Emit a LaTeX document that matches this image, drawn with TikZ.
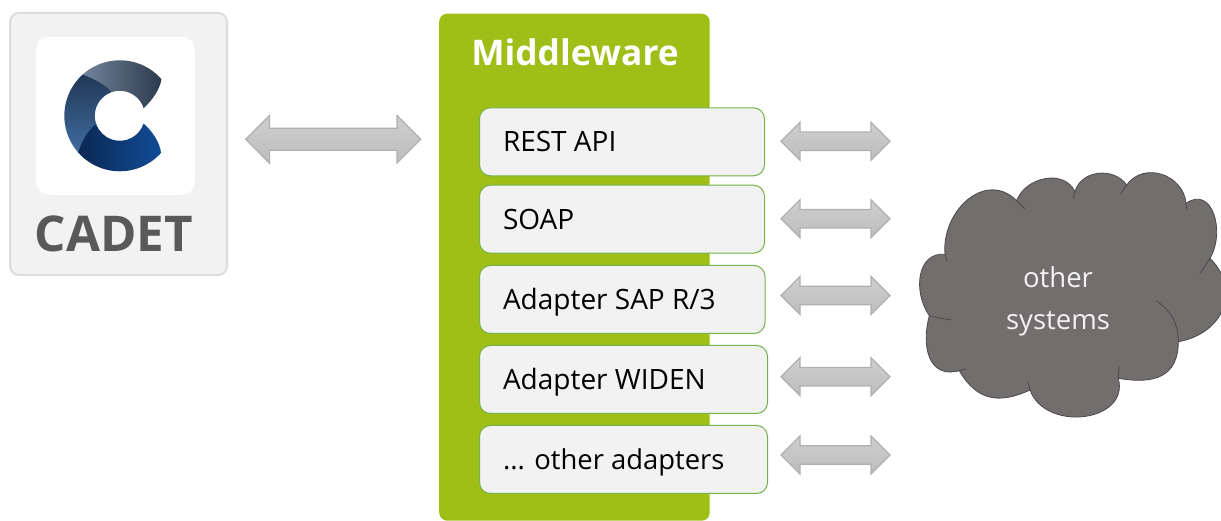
\documentclass[tikz,border=0pt]{standalone}
\usepackage{fontspec}
\setmainfont{Open Sans}
\usepackage{xcolor}
\usepackage{tikz}
\usetikzlibrary{positioning, calc}

\definecolor{midgreen}{HTML}{9FBE17}
\definecolor{itemline}{HTML}{76B14A}
\definecolor{itemfill}{HTML}{F2F2F2}
\definecolor{cadetline}{HTML}{DCDCDC}
\definecolor{cadettext}{HTML}{595959}
\definecolor{cloudfill}{HTML}{716E6D}
\definecolor{cloudline}{HTML}{4A4A4A}
\definecolor{arrowline}{HTML}{B0B0B0}

\begin{document}
\begin{tikzpicture}[
    x=1pt, y=1pt,
    item/.style={rectangle, rounded corners=11pt, draw=itemline, fill=itemfill, line width=1pt, minimum height=68pt, anchor=north west,
        inner xsep=23.5pt, inner ysep=0pt, minimum width=#1, text width=#1-47pt, text height=20pt, text depth=0pt, align=flush left, font=\fontsize{28}{32}\selectfont},
    blockarrow/.style n args={3}{draw=arrowline, line width=1.2pt, top color=gray!38, bottom color=gray!52,
        to path={let \p1=(\tikztostart), \p2=(\tikztotarget) in
            (\x1,\y1) -- ++(#2,#1) -- ++(0,-#1+#3) -- ($(\x2,\y2)+(-#2,#3)$) -- ++(0,#1-#3) -- (\x2,\y2)
            -- ++(-#2,-#1) -- ++(0,#1-#3) -- ($(\x1,\y1)+(#2,-#3)$) -- ++(0,-#1+#3) -- cycle}},
    smallarrow/.style={blockarrow={19}{19}{9.3}},
    stub/.style={draw=cloudline, line width=0.8pt}
]
    \useasboundingbox (0,0) rectangle (1221,521);

    % cadet panel
    \node[rectangle, rounded corners=9pt, draw=cadetline, fill=itemfill, line width=2pt, minimum width=217pt, minimum height=262pt] (cadet) at (118.5,377) {};
    \node[rectangle, rounded corners=13pt, fill=white, minimum width=159pt, minimum height=158pt] (logo) at (115.5,405.2) {};
    \node[font=\fontsize{49.3}{50}\bfseries\selectfont, text=cadettext, inner sep=0pt] (cadetname) at (114,286.8) {CADET};

    % logo
    \begin{scope}[shift={(119.8,405.2)}]
        \shade[left color={rgb,255:red,112;green,132;blue,156}, right color={rgb,255:red,44;green,58;blue,76}]
            (131.8:55.5) arc (131.8:41.3:55.5) .. controls (40,26) and (32,15) .. (17.7:25) arc (17.7:108.9:25) .. controls (-15,32) and (-28,38) .. cycle;
        \shade[top color={rgb,255:red,34;green,56;blue,86}, bottom color={rgb,255:red,64;green,108;blue,160}]
            (131.8:55.5) arc (131.8:221.3:55.5) .. controls (-38,-24) and (-31,-13) .. (199:25) arc (199:108.9:25) .. controls (-15,32) and (-28,38) .. cycle;
        \shade[left color={rgb,255:red,10;green,40;blue,84}, right color={rgb,255:red,18;green,76;blue,150}]
            (221.3:55.5) arc (221.3:318:55.5) .. controls (40,-26) and (32,-15) .. (-18:25) arc (-18:-161:25) .. controls (-31,-13) and (-38,-24) .. cycle;
    \end{scope}

    % middleware
    \node[rectangle, rounded corners=8pt, fill=midgreen, minimum width=270.5pt, minimum height=507pt, anchor=north west, inner sep=0pt] (midware) at (439,507.5) {};
    \node[font=\fontsize{35.3}{36}\bfseries\selectfont, text=white, inner sep=0pt] (midname) at (575,468.3) {Middleware};

    \node[item=285pt] (rest) at (479,413.7) {REST API};
    \node[item=285pt] (soap) at (479,336.3) {SOAP};
    \node[item=285.5pt] (sap) at (479,256) {Adapter SAP R/3};
    \node[item=288pt] (widen) at (479,176) {Adapter WIDEN};
    \node[item=288pt, font=\fontsize{27.4}{32}\selectfont] (others) at (479,96) {... other adapters};

    % cloud
    \coordinate (ca) at (945,266.7);
    \coordinate (cb) at (1016.7,320.3);
    \coordinate (cc) at (1075,329.3);
    \coordinate (cd) at (1126.7,336);
    \coordinate (ce) at (1186,317.7);
    \coordinate (cf) at (1210,262.7);
    \coordinate (cg) at (1178.3,179.3);
    \coordinate (ch) at (1118.3,142.7);
    \coordinate (ci) at (1030,131);
    \coordinate (cj) at (959.3,150.3);
    \coordinate (ck) at (929.3,205.3);
    \path[draw=cloudline, fill=cloudfill, line width=0.8pt]
        (ca) to[out=95, in=135, looseness=1.25] (cb)
        to[out=70, in=115, looseness=1.1] (cc)
        to[out=75, in=125, looseness=1.1] (cd)
        to[out=55, in=95, looseness=1.2] (ce)
        to[out=35, in=60, looseness=1.35] (cf)
        to[out=-45, in=10, looseness=1.3] (cg)
        to[out=-90, in=-10, looseness=1.3] (ch)
        to[out=-75, in=-70, looseness=1.3] (ci)
        to[out=-155, in=-60, looseness=1.2] (cj)
        to[out=-165, in=-105, looseness=1.3] (ck)
        to[out=125, in=175, looseness=1.15] (ca) -- cycle;
    \draw[stub] (cb) -- ++(8,-8);
    \draw[stub] (cc) -- ++(-2,-7);
    \draw[stub] (cd) -- ++(-6,-9);
    \draw[stub] (ce) -- ++(1,-7);
    \draw[stub] (cf) to[out=-130, in=50] ++(-10,-15);
    \draw[stub] (cg) to[out=90, in=-35] ++(-22,41);
    \draw[stub] (ch) -- ++(1,12);
    \draw[stub] (ci) -- ++(-2,8);
    \draw[stub] (cj) -- ++(7,2);
    \draw[stub] (ck) to[out=-15, in=175] ++(22,-4);
    \draw[stub] (ca) -- ++(2,-7);
    \node[align=center, text=white!95!black, font=\fontsize{27.5}{42}\selectfont, inner sep=0pt] (cloudtext) at (1058,219.5) {other\\systems};

    % block arrows
    \coordinate (cadetstart) at (245.7,381.7);
    \coordinate (cadetend) at (420.7,381.7);
    \coordinate (reststart) at (781,379.8);
    \coordinate (restend) at (890,379.8);
    \coordinate (soapstart) at (781,302.2);
    \coordinate (soapend) at (890,302.2);
    \coordinate (sapstart) at (781,225.5);
    \coordinate (sapend) at (890,225.5);
    \coordinate (widenstart) at (781,144.3);
    \coordinate (widenend) at (890,144.3);
    \coordinate (othersstart) at (781,66);
    \coordinate (othersend) at (890,66);

    \path[blockarrow={23.8}{23.7}{11}] (cadetstart) to (cadetend);
    \path[smallarrow] (reststart) to (restend);
    \path[smallarrow] (soapstart) to (soapend);
    \path[smallarrow] (sapstart) to (sapend);
    \path[smallarrow] (widenstart) to (widenend);
    \path[smallarrow] (othersstart) to (othersend);
\end{tikzpicture}
\end{document}
